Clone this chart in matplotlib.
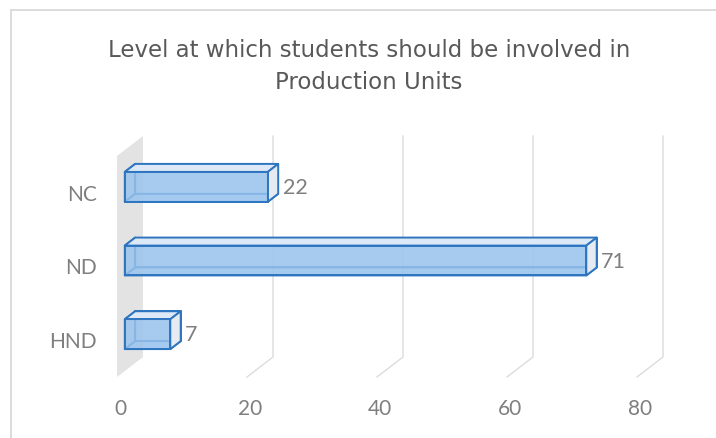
import numpy as np
import matplotlib.pyplot as plt
from matplotlib.patches import Polygon, Rectangle
from matplotlib.transforms import offset_copy

# data, bottom to top as drawn
categories = ["HND", "ND", "NC"]
values = [7, 71, 22]
xticks = [0, 20, 40, 60, 80]
title = "Level at which students should be involved in\nProduction Units"

W, H, DPI = 716, 439, 100
plt.rcParams['font.family'] = ['Lato', 'DejaVu Sans']

BAR_FACE = '#9ec6ee'
BAR_EDGE = '#2e75c0'
TOP_FACE = '#dde9f6'
END_FACE = '#e6ebf1'
WALL = '#e3e3e3'
GRID = '#dcdcdc'
TXT = '#7f7f7f'

fig = plt.figure(figsize=(W / DPI, H / DPI), dpi=DPI)
# axes = back wall plane of the 3d chart
ax = fig.add_axes([143 / W, 81 / H, 520 / W, 221 / H])
ax.set_xlim(0, 80)
ax.set_ylim(-0.5, 2.5)
ax.set_frame_on(False)
ax.set_xticks([])
ax.set_yticks([])

# pixel offset from back wall to the front edge of the floor
DEPTH_PX = np.array([-26.0, -20.0])

def depth(d):
    """data offset for depth fraction d (0 = back wall, 1 = front)"""
    p0 = ax.transData.transform((0, 0))
    return ax.transData.inverted().transform(p0 + DEPTH_PX * d)

fx, fy = depth(1)
y0, y1 = ax.get_ylim()

# side wall
ax.add_patch(Polygon([(0, y0), (0, y1), (fx, y1 + fy), (fx, y0 + fy)],
                     closed=True, fc=WALL, ec='none', clip_on=False, zorder=0))
# gridlines on back wall + floor
for v in xticks[1:]:
    ax.plot([v, v, v + fx], [y1, y0, y0 + fy], color=GRID, lw=1.0,
            clip_on=False, zorder=0)

# 3d bars
h = 30 / 74
df, db = depth(0.7), depth(0.3)
z = 2
for i, v in enumerate(values):
    b0, b1 = i - h / 2, i + h / 2
    F = lambda x, y: (x + df[0], y + df[1])
    B = lambda x, y: (x + db[0], y + db[1])
    faces = [
        ([B(0, b0), B(v, b0), B(v, b1), B(0, b1)], BAR_FACE, 0.5),   # back
        ([F(0, b0), F(v, b0), B(v, b0), B(0, b0)], BAR_FACE, 0.6),   # bottom
        ([F(0, b0), F(0, b1), B(0, b1), B(0, b0)], BAR_FACE, 0.5),   # left end
        ([F(0, b1), F(v, b1), B(v, b1), B(0, b1)], TOP_FACE, 1.0),   # top
        ([F(v, b0), F(v, b1), B(v, b1), B(v, b0)], END_FACE, 1.0),   # right end
        ([F(0, b0), F(v, b0), F(v, b1), F(0, b1)], BAR_FACE, 0.8),   # front
    ]
    for pts, fc, a in faces:
        ax.add_patch(Polygon(pts, closed=True, fc=fc, alpha=a, ec='none',
                             clip_on=False, zorder=z))
        ax.add_patch(Polygon(pts, closed=True, fill=False, ec=BAR_EDGE,
                             lw=1.4, joinstyle='round', clip_on=False, zorder=z + 0.5))
        z += 1
    # value label
    ax.text(v + df[0], i + df[1], str(v), transform=offset_copy(
        ax.transData, fig=fig, x=15, y=0, units='dots'),
        ha='left', va='center', fontsize=15.5, color=TXT, zorder=50)

# category labels at the front of the wall
for i, c in enumerate(categories):
    ax.text(fx, i + fy, c, transform=offset_copy(
        ax.transData, fig=fig, x=-20, y=-1, units='dots'),
        ha='right', va='center', fontsize=15, color=TXT, clip_on=False)

# value axis labels at the front of the floor
for v in xticks:
    ax.text(v + fx, y0 + fy, str(v), transform=offset_copy(
        ax.transData, fig=fig, x=3, y=-31, units='dots'),
        ha='center', va='center', fontsize=15, color=TXT, clip_on=False)

fig.text(369 / W, 1 - 39 / H, title, ha='center', va='top', fontsize=16.5,
         color='#595959', linespacing=1.5, family=['DejaVu Sans'])

# chart border
fig.add_artist(Rectangle((11 / W, -0.1), 1.2, 1 - 11 / H + 0.1,
                         transform=fig.transFigure, fill=False,
                         ec='#d9d9d9', lw=1.3))

fig.savefig('out.png', dpi=DPI)
